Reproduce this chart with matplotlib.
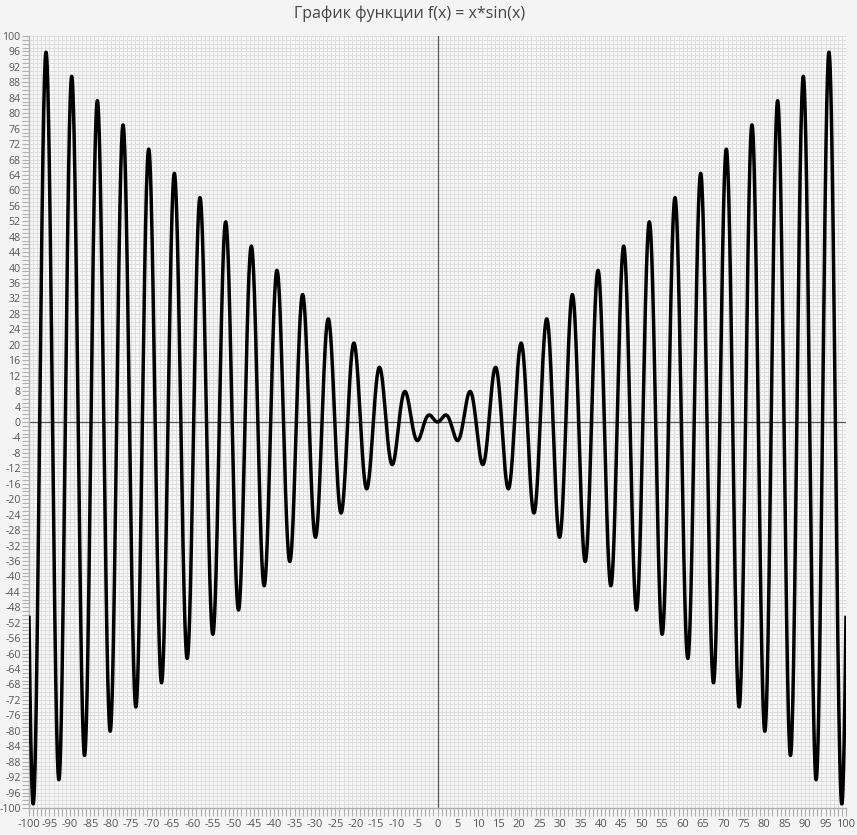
import numpy as np
import matplotlib
matplotlib.use("Agg")
import matplotlib.pyplot as plt
from matplotlib.ticker import MultipleLocator

# Data: the chart plots f(x) = x*sin(x) on [-100, 100] (as stated in its title)
x_min, x_max = -100, 100
y_min, y_max = -100, 100
x_vals = np.linspace(x_min, x_max, 4001)
y_vals = x_vals * np.sin(x_vals)
title = "График функции f(x) = x*sin(x)"

plt.rcParams['font.family'] = ['Open Sans', 'DejaVu Sans']
plt.rcParams['axes.unicode_minus'] = False

fig = plt.figure(figsize=(8.57, 8.35), dpi=100, facecolor='#f4f4f4')
ax = fig.add_axes([29/857, 1-808/835, (846-29)/857, (808-36)/835])
ax.set_facecolor('#f7f7f7')

ax.set_xlim(x_min, x_max)
ax.set_ylim(y_min, y_max)

ax.xaxis.set_major_locator(MultipleLocator(5))
ax.xaxis.set_minor_locator(MultipleLocator(1))
ax.yaxis.set_major_locator(MultipleLocator(4))
ax.yaxis.set_minor_locator(MultipleLocator(1))

ax.grid(which='both', color='#dedede', linewidth=0.7)
ax.set_axisbelow(True)

ax.axhline(0, color='#555555', linewidth=0.9, zorder=2)
ax.axvline(0, color='#555555', linewidth=0.9, zorder=2)

ax.plot(x_vals, y_vals, color='black', linewidth=2.5, zorder=3, solid_joinstyle='round')

for s in ['top', 'right']:
    ax.spines[s].set_visible(False)
for s in ['left', 'bottom']:
    ax.spines[s].set_color('#b0b0b0')
    ax.spines[s].set_linewidth(1.0)

ax.tick_params(axis='x', which='both', color='#b0b0b0', length=6, width=0.8,
               labelsize=8, labelcolor='#555555', pad=2)
ax.tick_params(axis='y', which='both', color='#b0b0b0', length=5, width=0.8,
               labelsize=7.6, labelcolor='#555555', pad=1)

fig.text(410/857, 1-14/835, title, fontsize=11.5, color='#444444',
         ha='center', va='center')

fig.savefig('out.png', dpi=100, facecolor=fig.get_facecolor())
